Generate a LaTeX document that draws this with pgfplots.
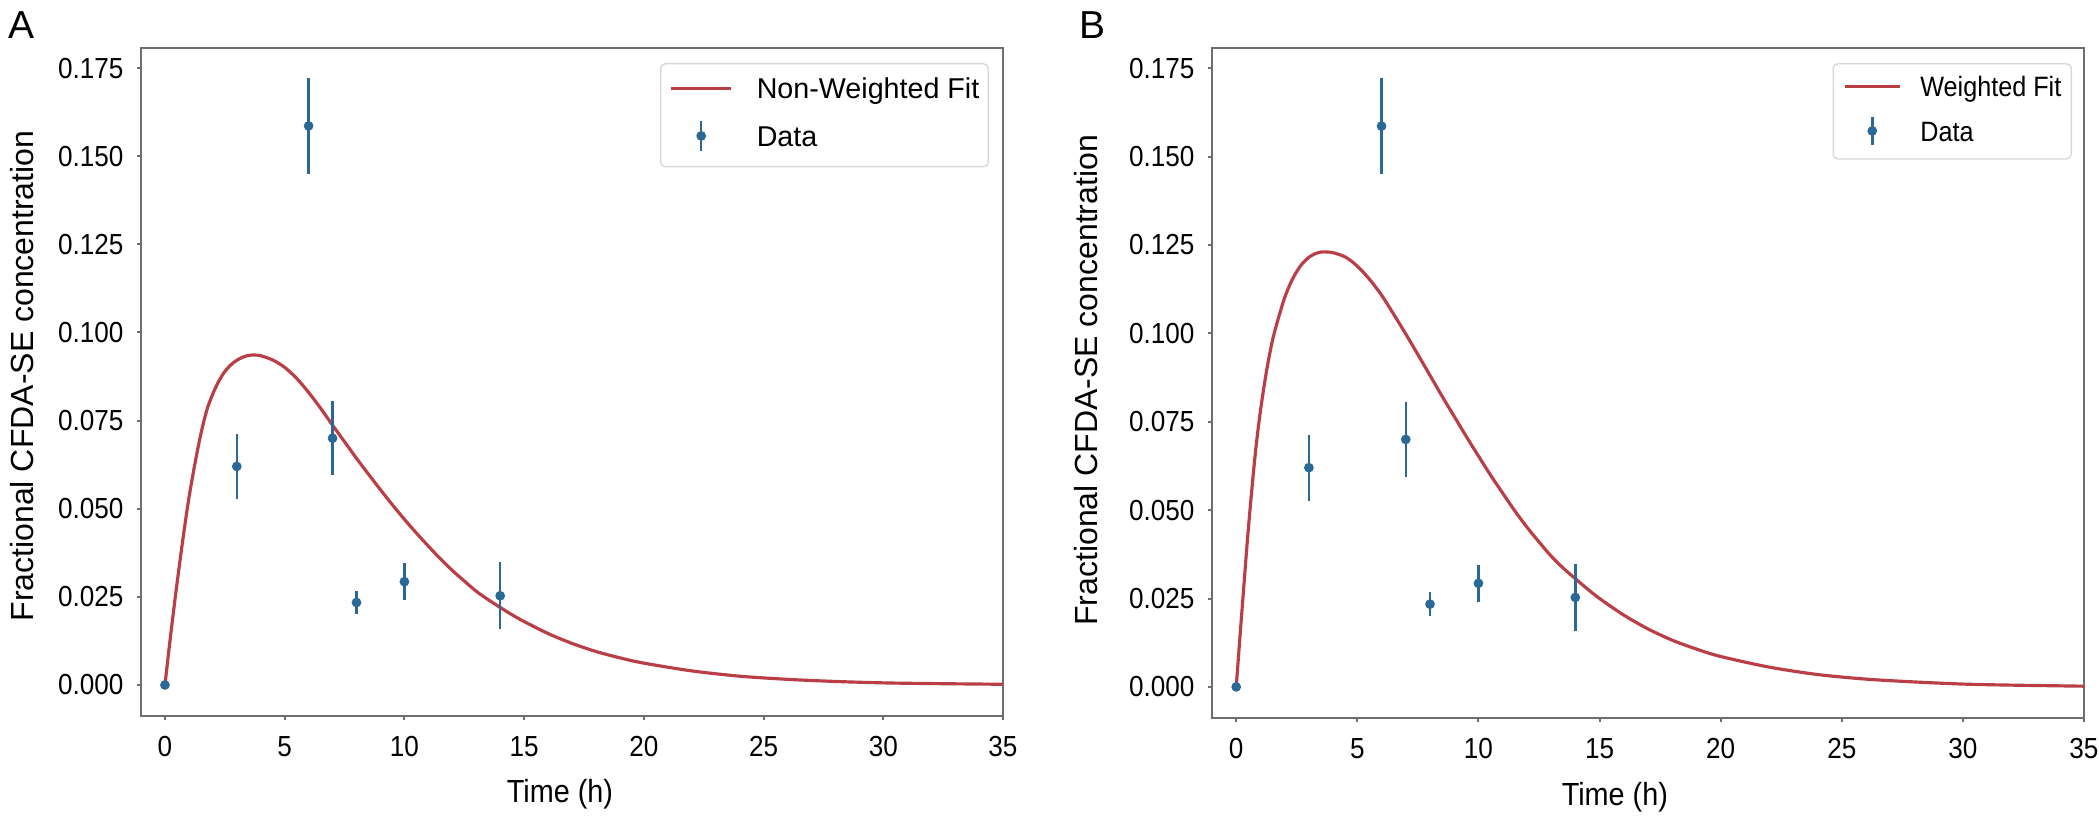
\documentclass[border=0pt]{standalone}
\usepackage{fontspec}
\setmainfont{Liberation Sans}
\newfontfamily\narrow{Liberation Sans}[FakeStretch=0.9]
\usepackage{pgfplots}
\pgfplotsset{compat=1.18}
\usepackage{pgfplotstable}

\definecolor{fitred}{RGB}{185,62,70}
\definecolor{datablue}{RGB}{44,104,150}
\definecolor{spinegray}{RGB}{110,110,110}
\definecolor{legendgray}{RGB}{215,215,215}

% measured points with symmetric error
\pgfplotstableread{
t  c       e
0  0.0000  0.0000
3  0.0620  0.0093
6  0.1586  0.0136
7  0.0700  0.0105
8  0.0234  0.0033
10 0.0293  0.0052
14 0.0253  0.0095
}\datatab

% non-weighted fit
\pgfplotstableread{
t     c
0     0.0000
0.15  0.0090
0.3   0.0176
0.45  0.0259
0.6   0.0338
0.8   0.0438
1.0   0.0530
1.25  0.0627
1.5   0.0712
1.75  0.0780
2.0   0.0826
2.25  0.0862
2.5   0.0889
2.75  0.0908
3.0   0.0921
3.25  0.0930
3.5   0.0935
3.75  0.0936
4.0   0.0934
4.5   0.0922
5.0   0.0901
5.5   0.0870
6.0   0.0830
6.5   0.0785
7.0   0.0737
7.5   0.0690
8.0   0.0643
8.5   0.0598
9.0   0.0554
9.5   0.0511
10    0.0470
10.5  0.0431
11    0.0394
11.5  0.0358
12    0.0325
12.5  0.0295
13    0.0266
13.5  0.0242
14    0.0220
14.5  0.0199
15    0.0180
16    0.0146
17    0.0118
18    0.0095
19    0.0077
20    0.0062
22    0.0040
24    0.0025
26    0.0016
28    0.0010
30    0.0006
32    0.0004
35    0.0002
}\fitA

% weighted fit
\pgfplotstableread{
t     c
0     0.0000
0.15  0.0138
0.3   0.0272
0.45  0.0405
0.6   0.0525
0.8   0.0668
1.0   0.0781
1.25  0.0893
1.5   0.0981
1.75  0.1045
2.0   0.1101
2.25  0.1143
2.5   0.1175
2.75  0.1199
3.0   0.1215
3.25  0.1225
3.5   0.1230
3.75  0.1230
4.0   0.1228
4.5   0.1216
5.0   0.1190
5.5   0.1153
6.0   0.1108
6.5   0.1054
7.0   0.0998
7.5   0.0940
8.0   0.0881
8.5   0.0822
9.0   0.0765
9.5   0.0708
10    0.0653
10.5  0.0599
11    0.0548
11.5  0.0498
12    0.0452
12.5  0.0410
13    0.0370
13.5  0.0336
14    0.0306
14.5  0.0277
15    0.0250
16    0.0203
17    0.0164
18    0.0132
19    0.0107
20    0.0086
22    0.0056
24    0.0035
26    0.0022
28    0.0014
30    0.0008
32    0.0005
35    0.0002
}\fitB

\pgfplotsset{
  panel/.style={
    scale only axis,
    xmin=-1, xmax=35, ymin=-0.0088, ymax=0.1807,
    xtick={0,5,10,15,20,25,30,35},
    ytick={0,0.025,0.05,0.075,0.1,0.125,0.15,0.175},
    scaled y ticks=false,
    tick pos=left, tick align=outside,
    major tick length=1.2pt,
    axis line style={spinegray, line width=0.6pt},
    every tick/.style={spinegray, line width=0.6pt},
    /pgf/number format/assume math mode=true,
    yticklabel style={/pgf/number format/fixed, /pgf/number format/fixed zerofill,
      /pgf/number format/precision=3},
    xticklabel style={anchor=base, yshift=-10.8pt, inner sep=0pt},
    yticklabel style={anchor=east, xshift=-3.9pt, inner sep=0pt},
    ticklabel style={font=\narrow\fontsize{8.7}{10}\selectfont},
    xlabel={Time (h)},
    ylabel={Fractional CFDA-SE concentration},
    xlabel style={anchor=base, font=\narrow\fontsize{9.6}{11}\selectfont},
    ylabel style={anchor=center, font=\fontsize{9.6}{11}\selectfont},
    legend cell align=left,
  },
}

\begin{document}
\begin{tikzpicture}
\path[use as bounding box] (0pt,0pt) rectangle (629.7pt,244.5pt);

\begin{axis}[panel,
  at={(42.3pt,29.7pt)}, anchor=south west,
  width=258.6pt, height=200.4pt,
  xlabel style={at={(axis description cs:0.486,-0.130)}},
  ylabel style={at={(axis description cs:-0.138,0.509)}},
  legend style={at={(1,1)}, anchor=north east, xshift=-4.2pt, yshift=-4.5pt,
    draw=legendgray, line width=0.4pt, rounded corners=1.5pt,
    inner xsep=2.7pt, inner ysep=4.4pt, row sep=6.2pt,
    font=\fontsize{8.6}{10}\selectfont,
    nodes={anchor=west, inner sep=0pt, text height=6.2pt, text depth=0pt},
    /tikz/every odd column/.append style={column sep=7.2pt}},
]
\addplot[fitred, line width=0.95pt, smooth,
  legend image code/.code={\draw[fitred, line width=0.95pt] (0pt,0pt) -- (18pt,0pt);}]
  table[x=t, y=c] {\fitA};
\addlegendentry{Non-Weighted Fit}
\addplot[datablue, only marks, mark=*, mark size=1.25pt,
  legend image code/.code={%
    \draw[datablue, line width=0.75pt] (9pt,-4.5pt) -- (9pt,4.5pt);
    \fill[datablue] (9pt,0pt) circle (1.25pt);},
  error bars/.cd, y dir=both, y explicit, error mark=none,
  error bar style={datablue, line width=0.75pt}]
  table[x=t, y=c, y error=e] {\datatab};
\addlegendentry{Data}
\end{axis}

\begin{axis}[panel,
  at={(363.6pt,29.1pt)}, anchor=south west,
  width=261.6pt, height=201pt,
  xlabel style={at={(axis description cs:0.462,-0.130)}},
  ylabel style={at={(axis description cs:-0.1445,0.504)}},
  legend style={at={(1,1)}, anchor=north east, xshift=-3.6pt, yshift=-4.5pt,
    draw=legendgray, line width=0.4pt, rounded corners=1.5pt,
    inner xsep=3pt, inner ysep=3.85pt, row sep=5.65pt,
    font=\narrow\fontsize{8.4}{10}\selectfont,
    nodes={anchor=west, inner sep=0pt, text height=6.1pt, text depth=0pt},
    /tikz/every odd column/.append style={column sep=5.7pt}},
]
\addplot[fitred, line width=0.95pt, smooth,
  legend image code/.code={\draw[fitred, line width=0.95pt] (0pt,0pt) -- (16.5pt,0pt);}]
  table[x=t, y=c] {\fitB};
\addlegendentry{Weighted Fit}
\addplot[datablue, only marks, mark=*, mark size=1.25pt,
  legend image code/.code={%
    \draw[datablue, line width=0.75pt] (8.25pt,-4.2pt) -- (8.25pt,4.2pt);
    \fill[datablue] (8.25pt,0pt) circle (1.25pt);},
  error bars/.cd, y dir=both, y explicit, error mark=none,
  error bar style={datablue, line width=0.75pt}]
  table[x=t, y=c, y error=e] {\datatab};
\addlegendentry{Data}
\end{axis}

\node[font=\fontsize{11.7}{13}\selectfont, anchor=base] at (6.6pt,233.1pt) {A};
\node[font=\fontsize{11.7}{13}\selectfont, anchor=base] at (327.6pt,233.1pt) {B};
\end{tikzpicture}
\end{document}
